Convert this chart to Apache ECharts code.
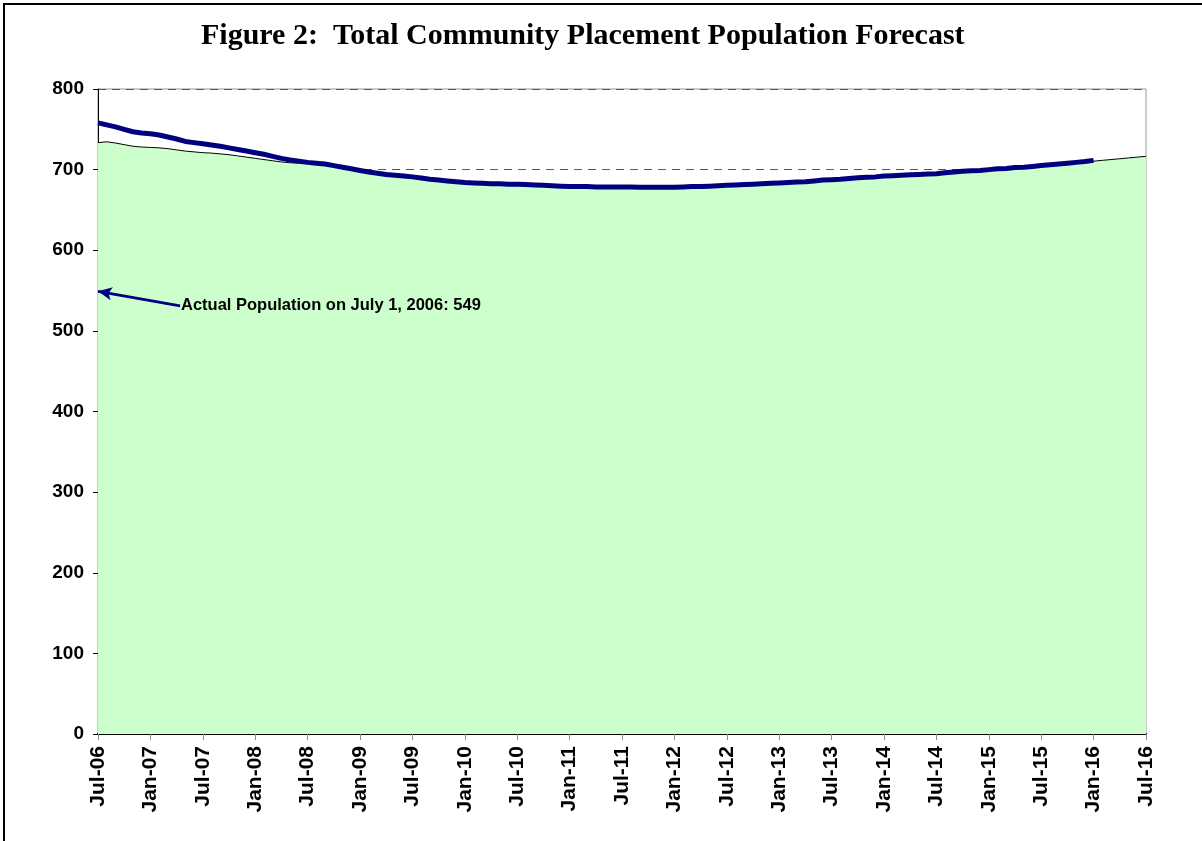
<!DOCTYPE html>
<html>
<head>
<meta charset="utf-8">
<script src="https://cdn.jsdelivr.net/npm/echarts@6/dist/echarts.min.js"></script>
<style>
  html, body { margin: 0; padding: 0; background: #ffffff; }
  #chart { width: 1202px; height: 841px; }
</style>
</head>
<body>
<div id="chart"></div>
<script>
// tick labels every 6 months, Jul-06 .. Jul-16
var tickLabels = ['Jul-06','Jan-07','Jul-07','Jan-08','Jul-08','Jan-09','Jul-09','Jan-10','Jul-10','Jan-11','Jul-11',
  'Jan-12','Jul-12','Jan-13','Jul-13','Jan-14','Jul-14','Jan-15','Jul-15','Jan-16','Jul-16'];

// monthly forecast, Jul-06 .. Jan-16 (thick blue line)
var forecastLine = [758,755.5,753,750,747,745.5,744.5,743,740.5,738,
  735,733.5,732,730.5,729,727,725,723,721,719,
  716.5,714,712,710.5,709,708,707,705,703,701,
  699,697,695.5,694,693,692,691,689.5,688,687,
  686,685,684,683.5,683,682.5,682.5,682,682,681.5,
  681,680.5,680,679.5,679,679,679,678.5,678.5,678.5,
  678.5,678.5,678,678,678,678,678,678.5,679,679,
  679.5,680,680.5,681,681.5,682,682.5,683,683.5,684,
  684.5,685,686,687,687.5,688,689,690,690.5,691,
  692,692.5,693,693.5,694,694.5,695,696,697,698,
  698.5,699,700,701,701.5,702.5,703,704,705,706,
  707,708,709,710,711.5];

// monthly forecast, Jul-06 .. Jul-16 (green area)
var forecastArea = [733.5,734.5,733,731,729,728,727.5,727,726,724.5,
  723,722,721,720.5,719.5,718.5,717,715.5,714,712.5,
  711,709.5,708.5,708,707.5,707,706,704.5,702.5,700.5,
  698.5,696.5,695,693.5,692.5,691.5,690.5,689,687.5,686.5,
  685.5,684.5,683.5,683,682.5,682,682,681.5,681.5,681,
  680.5,680,679.5,679,678.5,678.5,678.5,678,678,678,
  678,678,677.5,677.5,677.5,677.5,677.5,678,678.5,678.5,
  679,679.5,680,680.5,681,681.5,682,682.5,683,683.5,
  684,684.5,685.5,686.5,687,687.5,688.5,689.5,690,690.5,
  691.5,692,692.5,693,693.5,694,694.5,695.5,696.5,697.5,
  698,698.5,699.5,700.5,701,702,702.5,703.5,704.5,705.5,
  706.5,707.5,708.5,709.5,710.5,711.5,712.5,713.5,714.5,715.5,
  716.5];

var actualJuly2006 = 549;

var myChart = echarts.init(document.getElementById('chart'));

var areaData = forecastArea.map(function (v, i) { return [i, v]; });
var lineData = forecastLine.map(function (v, i) { return [i, v]; });

var option = {
  animation: false,
  backgroundColor: '#ffffff',
  title: {
    text: 'Figure 2:  Total Community Placement Population Forecast',
    left: 196,
    top: 16,
    textStyle: {
      fontFamily: 'Liberation Serif',
      fontWeight: 'bold',
      fontSize: 30,
      color: '#000'
    }
  },
  grid: {
    left: 98,
    right: 56,
    top: 89,
    bottom: 107,
    show: true,
    borderColor: '#999999',
    borderWidth: 1
  },
  xAxis: {
    type: 'value',
    min: 0,
    max: 120,
    interval: 6,
    axisLine: { show: true, onZero: false, lineStyle: { color: '#000', width: 2 } },
    axisTick: { show: true, length: 6, lineStyle: { color: '#888' } },
    splitLine: { show: false },
    axisLabel: {
      rotate: 90,
      margin: 12,
      fontFamily: 'Liberation Sans',
      fontWeight: 'bold',
      fontSize: 21,
      color: '#000',
      formatter: function (val) { return tickLabels[Math.round(val / 6)]; }
    }
  },
  yAxis: {
    type: 'value',
    min: 0,
    max: 800,
    interval: 100,
    axisLine: { show: true, lineStyle: { color: '#000', width: 1 } },
    axisTick: { show: true, length: 5, lineStyle: { color: '#000' } },
    splitLine: { show: true, lineStyle: { color: '#555', type: [8, 6], width: 1 } },
    axisLabel: {
      margin: 14,
      fontFamily: 'Liberation Sans',
      fontWeight: 'bold',
      fontSize: 19,
      color: '#000'
    }
  },
  series: [
    {
      name: 'Area',
      type: 'line',
      data: areaData,
      showSymbol: false,
      lineStyle: { color: '#000', width: 1 },
      areaStyle: { color: '#CCFFCC', opacity: 1 },
      z: 2
    },
    {
      name: 'Forecast',
      type: 'line',
      data: lineData,
      showSymbol: false,
      lineStyle: { color: '#000080', width: 5 },
      z: 3,
      markLine: {
        silent: true,
        symbol: ['none', 'arrow'],
        symbolSize: [10, 14],
        lineStyle: { color: '#000080', width: 3, type: 'solid' },
        label: { show: false },
        data: [[{ coord: [9.4, 531] }, { coord: [0, actualJuly2006] }]]
      }
    }
  ],
  graphic: [
    {
      type: 'rect',
      shape: { x: 4, y: 4, width: 1400, height: 1000 },
      style: { fill: 'none', stroke: '#000', lineWidth: 2 },
      silent: true
    },
    {
      type: 'text',
      left: 181,
      top: 297,
      style: {
        text: 'Actual Population on July 1, 2006: ' + actualJuly2006,
        font: 'bold 16.5px "Liberation Sans"',
        fill: '#000'
      },
      z: 10
    }
  ]
};

myChart.setOption(option);
</script>
</body>
</html>
